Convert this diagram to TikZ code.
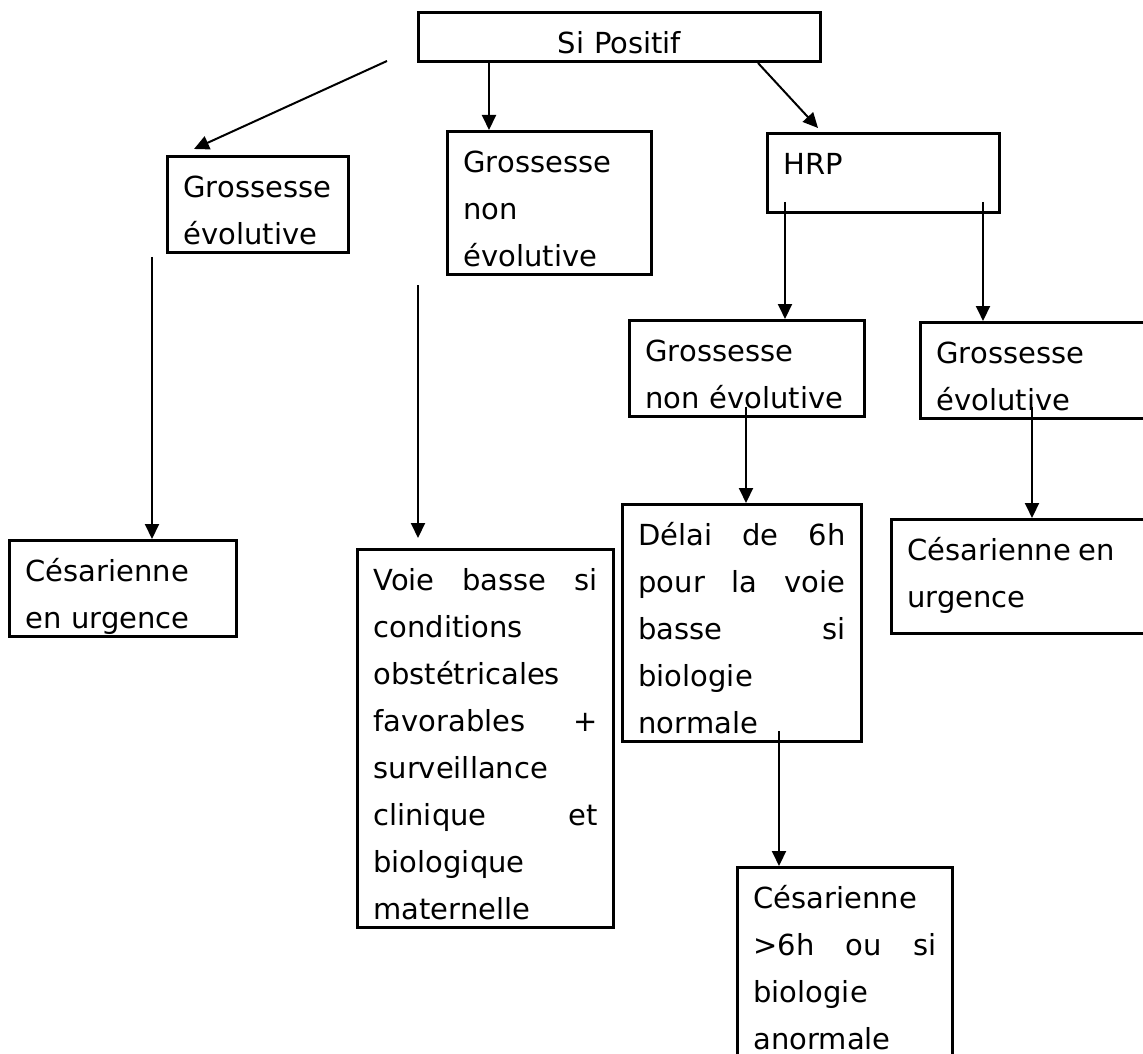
\documentclass[tikz,border=0pt]{standalone}
\usepackage{fontspec}
\setmainfont{DejaVu Sans}
\usetikzlibrary{arrows.meta}
\hyphenpenalty=10000
\newcommand{\boxfont}{\fontsize{14.5}{23.5}\selectfont}
\newcommand{\topstrut}{\rule{0pt}{20.5pt}}
\newcommand{\botstrut}[1][4pt]{\rule[-#1]{0pt}{0pt}}

\begin{document}
\begin{tikzpicture}[x=0.5pt,y=-0.5pt,
  box/.style={draw, line width=1.5pt, anchor=north west, align=left, inner xsep=8pt, inner ysep=0pt, font=\boxfont, text width=#1},
  arr/.style={-{Triangle[length=7.5pt,width=7pt]}, line width=1pt}]
\useasboundingbox (0,0) rectangle (1143,1053);
\node[box=185pt, align=center] (sp) at (417,11) {\topstrut Si Positif\botstrut};
\node[box=74.5pt] (gev) at (166,155) {\topstrut Grossesse\\évolutive\botstrut};
\node[box=86pt] (gne) at (446,130) {\topstrut Grossesse\\non\\évolutive\botstrut};
\node[box=100pt] (hrp) at (766,132) {\topstrut HRP\botstrut[19pt]};
\node[box=101.5pt] (gne2) at (628,319) {\topstrut Grossesse\\non évolutive\botstrut};
\node[box=104.5pt] (gev2) at (919,321) {\topstrut Grossesse\\évolutive\botstrut};
\node[box=97.5pt] (ces) at (8,539) {\topstrut Césarienne\\en urgence\botstrut};
\node[box=112pt] (voie) at (356,548) {\topstrut Voie\hfill basse\hfill si\\conditions\\obstétricales\\favorables\hfill +\\surveillance\\clinique\hfill et\\biologique\\maternelle\botstrut};
\node[box=103.5pt] (delai) at (621,503) {\topstrut Délai\hfill de\hfill 6h\\pour\hfill la\hfill voie\\basse\hfill si\\biologie\\normale\botstrut};
\node[box=119pt] (ces2) at (890,518) {\topstrut\hbox to 103.5pt{Césarienne\hfill en}\\urgence\botstrut[13pt]};
\node[box=91.5pt] (ces3) at (736,866) {\topstrut Césarienne\\>6h\hfill ou\hfill si\\biologie\\anormale\botstrut};
\coordinate (d1) at (387,61);
\coordinate (p1) at (489,61);
\coordinate (p2) at (758,61);
\coordinate (h1) at (785,202);
\coordinate (h2) at (983,202);
\coordinate (g1) at (152,257);
\coordinate (g2) at (418,285);
\coordinate (g3) at (746,407);
\coordinate (g4) at (1032,407);
\coordinate (g5) at (779,731);
\draw[arr] (d1) -- ([xshift=14pt,yshift=3pt]gev.north west);
\draw[arr] (p1 |- sp.south) -- (p1 |- gne.north);
\draw[arr] (p2 |- sp.south) -- ([xshift=26pt,yshift=2pt]hrp.north west);
\draw[arr] (h1) -- (h1 |- gne2.north);
\draw[arr] (h2) -- (h2 |- gev2.north);
\draw[arr] (g1) -- (g1 |- ces.north);
\draw[arr, shorten >=5pt] (g2) -- (g2 |- voie.north);
\draw[arr] (g3) -- (g3 |- delai.north);
\draw[arr] (g4) -- (g4 |- ces2.north);
\draw[arr] (g5) -- (g5 |- ces3.north);
\end{tikzpicture}
\end{document}
